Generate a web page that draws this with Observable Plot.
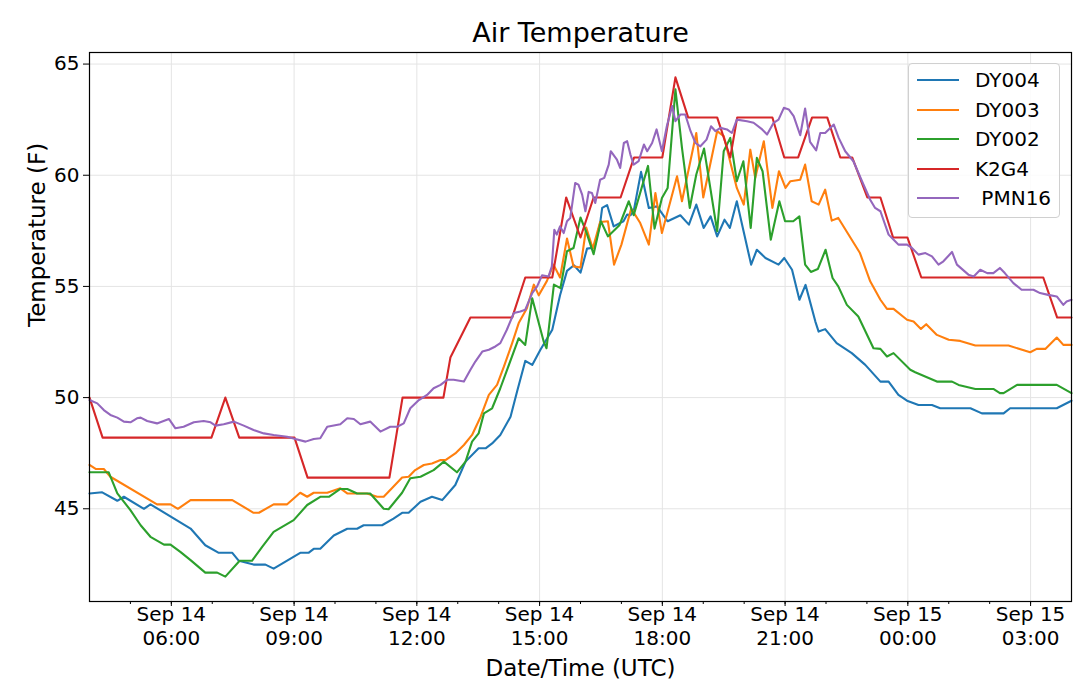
<!DOCTYPE html>
<html>
<head>
<meta charset="utf-8">
<script src="https://cdn.jsdelivr.net/npm/d3@7"></script>
<script src="https://cdn.jsdelivr.net/npm/@observablehq/plot@0.6"></script>
<style>
  body { margin: 0; background: #fff; font-family: "DejaVu Sans", sans-serif; }
  #wrap { position: relative; width: 1080px; height: 688px; }
  #legend { position: absolute; left: 908px; top: 63px; width: 152px; height: 155px; box-sizing: border-box;
            border: 1px solid #d0d0d0; border-radius: 4px; background: rgba(255,255,255,0.85); }
  .lrow { position: absolute; left: 0; height: 24px; width: 150px; }
  .lsw { position: absolute; left: 8px; top: 11px; width: 42px; height: 2px; }
  .ltx { position: absolute; left: 66px; top: 0; font-size: 20px; line-height: 24px; color: #000; white-space: pre; }
</style>
</head>
<body>
<div id="wrap"><div id="chart"></div><div id="legend"></div></div>
<script>
// Hours since Sep 14 00:00 UTC, temperatures in °F
const seriesNames = ["DY004", "DY003", "DY002", "K2G4", " PMN16"];
const seriesColors = ["#1f77b4", "#ff7f0e", "#2ca02c", "#d62728", "#9467bd"];

const dy004_h = [4.0,4.31,4.68,4.84,5.33,5.49,6.47,6.83,7.16,7.49,7.65,8.01,8.30,8.50,9.15,9.36,9.48,9.64,9.97,10.30,10.54,10.70,11.15,11.43,11.64,11.80,12.09,12.37,12.62,12.94,13.19,13.51,13.68,13.84,14.04,14.29,14.45,14.65,14.82,15.02,15.31,15.50,15.67,15.84,16.0,16.16,16.34,16.48,16.53,16.65,16.81,17.05,17.14,17.22,17.30,17.48,17.67,17.87,18.13,18.44,18.65,18.83,19.01,19.18,19.34,19.52,19.65,19.82,20.17,20.31,20.52,20.84,20.98,21.17,21.35,21.50,21.74,21.82,21.98,22.26,22.63,22.96,23.33,23.53,23.77,23.98,24.26,24.59,24.79,25.53,25.81,26.34,26.50,27.64,28.0];
const dy004_f = [45.69,45.74,45.36,45.54,45.0,45.2,44.11,43.36,43.02,43.02,42.66,42.49,42.49,42.31,43.02,43.03,43.2,43.2,43.8,44.1,44.1,44.26,44.26,44.56,44.82,44.82,45.32,45.54,45.39,46.07,47.12,47.72,47.72,47.94,48.32,49.14,50.27,51.65,51.47,52.15,53.05,54.6,55.7,55.95,55.62,56.7,56.75,57.85,58.53,58.66,57.7,57.93,58.23,58.2,58.38,60.15,58.53,58.6,57.93,58.2,57.78,58.68,57.63,58.15,57.25,58.0,57.63,58.83,55.98,56.65,56.28,55.98,56.28,55.75,54.4,55.07,53.42,52.97,53.08,52.45,52.0,51.47,50.72,50.72,50.12,49.86,49.67,49.67,49.52,49.52,49.29,49.29,49.52,49.52,49.86];

const dy003_h = [4.0,4.15,4.35,4.51,5.65,5.98,6.16,6.47,7.49,8.01,8.14,8.50,8.83,9.15,9.32,9.48,9.81,10.13,10.30,10.78,11.03,11.19,11.39,11.64,11.80,11.96,12.17,12.37,12.58,12.70,12.94,13.15,13.35,13.56,13.76,13.96,14.13,14.33,14.49,14.69,14.86,14.98,15.18,15.34,15.50,15.67,15.83,16.0,16.14,16.30,16.48,16.67,16.82,17.0,17.24,17.46,17.67,17.83,17.99,18.36,18.48,18.83,19.0,19.34,19.50,19.82,19.99,20.15,20.27,20.48,20.69,20.85,21.01,21.13,21.37,21.49,21.65,21.82,21.98,22.14,22.30,22.83,23.08,23.33,23.49,23.65,23.98,24.14,24.32,24.45,24.71,25.0,25.28,25.65,26.46,26.99,27.15,27.36,27.64,27.80,28.0];
const dy003_f = [46.97,46.79,46.79,46.44,45.2,45.2,45.0,45.39,45.39,44.82,44.82,45.2,45.2,45.72,45.54,45.72,45.72,45.92,45.69,45.69,45.54,45.54,45.92,46.41,46.44,46.74,46.97,47.04,47.19,47.19,47.49,47.87,48.32,49.14,50.12,50.57,51.4,52.45,53.35,54.02,55.08,54.6,55.25,55.98,55.4,57.15,55.9,55.85,57.65,56.7,57.9,57.93,55.98,56.88,58.5,57.85,56.88,59.2,57.4,59.95,58.83,61.9,59.0,61.98,61.76,59.43,58.68,61.15,59.88,61.53,58.53,60.18,59.43,59.73,59.8,60.48,58.83,58.68,59.35,57.96,58.08,56.5,55.23,54.4,53.99,53.99,53.5,53.42,53.09,53.3,52.82,52.6,52.55,52.34,52.34,52.04,52.19,52.19,52.7,52.37,52.37];

const dy002_h = [4.0,4.47,4.68,5.0,5.25,5.49,5.82,5.98,6.22,6.47,6.83,7.12,7.32,7.67,7.97,8.22,8.50,8.99,9.32,9.64,9.85,10.13,10.30,10.54,10.86,11.19,11.31,11.64,11.84,12.09,12.41,12.66,12.98,13.19,13.35,13.51,13.64,13.84,14.04,14.49,14.65,14.82,15.10,15.17,15.35,15.51,15.67,15.83,16.0,16.14,16.32,16.50,16.67,16.95,17.18,17.30,17.65,17.81,17.99,18.13,18.32,18.48,18.67,18.83,19.02,19.34,19.50,19.66,19.82,19.98,20.16,20.31,20.45,20.65,20.86,21.0,21.20,21.35,21.49,21.63,21.80,21.99,22.16,22.30,22.51,22.79,23.16,23.33,23.49,23.65,24.06,24.18,24.71,25.08,25.24,25.65,26.09,26.25,26.34,26.67,27.64,28.0];
const dy002_f = [46.64,46.64,45.69,44.94,44.26,43.74,43.39,43.39,43.06,42.69,42.13,42.13,41.95,42.66,42.66,43.29,43.96,44.49,45.17,45.54,45.54,45.89,45.89,45.69,45.69,45.0,44.98,45.72,46.37,46.44,46.74,47.12,46.64,47.12,48.02,48.39,49.29,49.52,50.42,52.67,52.37,54.47,52.52,52.22,55.08,54.92,56.58,56.73,58.1,57.45,56.45,57.93,57.25,57.75,58.83,58.2,60.42,57.6,58.98,59.43,63.86,61.23,58.53,60.03,61.2,57.48,61.08,61.68,59.73,60.63,57.63,60.78,60.18,57.1,58.83,57.93,57.93,58.15,55.98,55.65,55.78,56.65,55.38,55.0,54.17,53.65,52.22,52.19,51.85,52.0,51.25,51.14,50.72,50.72,50.57,50.39,50.39,50.2,50.2,50.57,50.57,50.2];

const k2g4_h = [4.0,4.32,6.98,7.32,7.66,9.01,9.33,11.33,11.65,12.65,12.82,13.31,14.33,14.65,15.31,15.65,16.0,16.32,16.98,17.31,18.0,18.32,18.63,19.34,19.66,19.83,20.69,20.98,21.32,21.66,22.03,22.35,22.64,23.01,23.33,23.64,23.99,24.33,27.31,27.65,28.0];
const k2g4_f = [50,48.2,48.2,50,48.2,48.2,46.4,46.4,50,50,51.8,53.6,53.6,55.4,55.4,59,57.2,59,59,60.8,60.8,64.4,62.6,62.6,60.8,62.6,62.6,60.8,60.8,62.6,62.6,60.8,60.8,59,59,57.2,57.2,55.4,55.4,53.6,53.6];

const pmn16_h = [4.0,4.19,4.35,4.51,4.68,4.84,5.0,5.16,5.25,5.41,5.65,5.94,6.10,6.30,6.55,6.79,6.96,7.08,7.28,7.53,7.77,8.01,8.26,8.50,8.83,9.03,9.28,9.48,9.64,9.81,10.13,10.30,10.46,10.62,10.86,11.11,11.35,11.52,11.68,11.84,12.05,12.25,12.41,12.58,12.74,12.90,13.15,13.31,13.43,13.60,13.76,13.92,14.04,14.20,14.37,14.53,14.65,14.82,14.94,15.06,15.22,15.30,15.36,15.42,15.50,15.59,15.67,15.75,15.87,15.95,16.04,16.12,16.20,16.28,16.36,16.48,16.58,16.69,16.74,16.89,16.97,17.06,17.14,17.22,17.30,17.42,17.55,17.63,17.75,17.86,17.99,18.11,18.24,18.32,18.44,18.56,18.69,18.81,18.93,19.08,19.19,19.30,19.42,19.58,19.70,19.82,20.07,20.23,20.44,20.56,20.72,20.84,20.97,21.09,21.21,21.37,21.49,21.61,21.76,21.86,21.98,22.19,22.31,22.47,22.67,22.88,23.08,23.20,23.33,23.53,23.69,23.77,23.98,24.10,24.26,24.43,24.59,24.75,24.87,25.08,25.20,25.48,25.61,25.77,25.94,26.09,26.25,26.37,26.58,26.78,27.07,27.23,27.43,27.64,27.80,27.88,28.0];
const pmn16_f = [49.89,49.74,49.44,49.22,49.1,48.92,48.89,49.07,49.1,48.95,48.84,49.04,48.62,48.69,48.89,48.95,48.89,48.74,48.8,48.92,48.74,48.54,48.39,48.32,48.24,48.14,48.02,48.14,48.17,48.69,48.8,49.07,49.04,48.8,48.92,48.47,48.69,48.69,48.84,49.52,49.89,50.12,50.42,50.57,50.8,50.8,50.72,51.25,51.62,52.07,52.15,52.3,52.45,53.05,53.8,53.87,53.95,54.7,55.0,55.5,55.45,55.9,57.55,57.33,57.7,57.4,57.93,58.08,59.65,59.58,59.13,58.38,59.25,59.2,58.75,59.8,59.88,60.48,61.08,60.7,60.33,61.45,61.53,60.93,60.48,60.63,61.38,61.08,61.45,62.06,61.08,62.2,63.11,62.43,62.73,62.73,61.98,61.45,61.3,61.6,62.2,61.98,62.13,62.06,61.9,62.5,62.43,62.36,62.06,61.83,62.36,62.5,63.03,62.96,62.66,61.8,63.0,61.5,61.12,61.9,61.9,62.28,61.68,61.08,60.63,59.73,58.9,58.53,58.38,57.33,57.03,56.88,56.88,56.73,56.43,56.5,56.35,55.98,56.13,56.55,55.98,55.53,55.45,55.75,55.6,55.6,55.83,55.6,55.15,54.85,54.85,54.7,54.62,54.55,54.17,54.32,54.4];

const yTicks = [45, 50, 55, 60, 65];

const baseMs = Date.UTC(2017, 8, 14);
const toDate = h => new Date(baseMs + h * 3600e3);

const seriesData = [
  [dy004_h, dy004_f], [dy003_h, dy003_f], [dy002_h, dy002_f], [k2g4_h, k2g4_f], [pmn16_h, pmn16_f]
];
const rows = [];
seriesData.forEach(([hs, fs], k) => hs.forEach((h, i) => rows.push({series: seriesNames[k], time: toDate(h), temp: fs[i]})));

const x0 = toDate(4), x1 = toDate(28);
const majorTicks = d3.utcHour.every(3).range(toDate(5), x1).filter(d => d.getUTCHours() % 3 === 0);
const minorTicks = d3.utcHour.range(toDate(4.5), x1);
const fmtHM = d3.utcFormat("%H:%M");
const fmtTick = d => "Sep " + d.getUTCDate() + "\n" + fmtHM(d);

const chart = Plot.plot({
  width: 1080, height: 688,
  marginLeft: 89, marginRight: 9, marginTop: 52, marginBottom: 87,
  style: {fontFamily: "DejaVu Sans, sans-serif", fontSize: "20px", color: "#000", background: "#fff"},
  x: {type: "utc", domain: [x0, x1]},
  y: {domain: [40.83, 65.52]},
  color: {domain: seriesNames, range: seriesColors},
  marks: [
    Plot.gridX(majorTicks, {stroke: "#e4e4e4", strokeOpacity: 1, strokeWidth: 1}),
    Plot.gridY(yTicks, {stroke: "#e4e4e4", strokeOpacity: 1, strokeWidth: 1}),
    Plot.line(rows, {x: "time", y: "temp", z: "series", stroke: "series", strokeWidth: 2.1, strokeLinejoin: "round"}),
    Plot.frame({stroke: "#000", strokeWidth: 1.2}),
    Plot.axisX(minorTicks, {tickSize: 3, text: null, label: null, stroke: "#000"}),
    Plot.axisX(majorTicks, {tickSize: 5, tickPadding: -3, tickFormat: fmtTick, lineHeight: 1.22, fontSize: 20, label: null, stroke: "#000"}),
    Plot.axisY(yTicks, {tickSize: 6, tickPadding: 4, fontSize: 20, label: null, stroke: "#000"}),
    Plot.text(["Air Temperature"], {frameAnchor: "top", dy: -19, lineAnchor: "middle", fontSize: 27}),
    Plot.text(["Date/Time (UTC)"], {frameAnchor: "bottom", dy: 67, lineAnchor: "middle", fontSize: 23}),
    Plot.text(["Temperature (F)"], {frameAnchor: "left", dx: -52, rotate: -90, lineAnchor: "middle", fontSize: 23})
  ]
});
document.getElementById("chart").appendChild(chart);

const legend = document.getElementById("legend");
const rowTops = [4, 34, 63, 93, 122];
seriesNames.forEach((name, i) => {
  const r = document.createElement("div");
  r.className = "lrow";
  r.style.top = rowTops[i] + "px";
  const sw = document.createElement("div");
  sw.className = "lsw";
  sw.style.background = seriesColors[i];
  const tx = document.createElement("div");
  tx.className = "ltx";
  tx.textContent = name;
  r.appendChild(sw); r.appendChild(tx);
  legend.appendChild(r);
});
</script>
</body>
</html>
